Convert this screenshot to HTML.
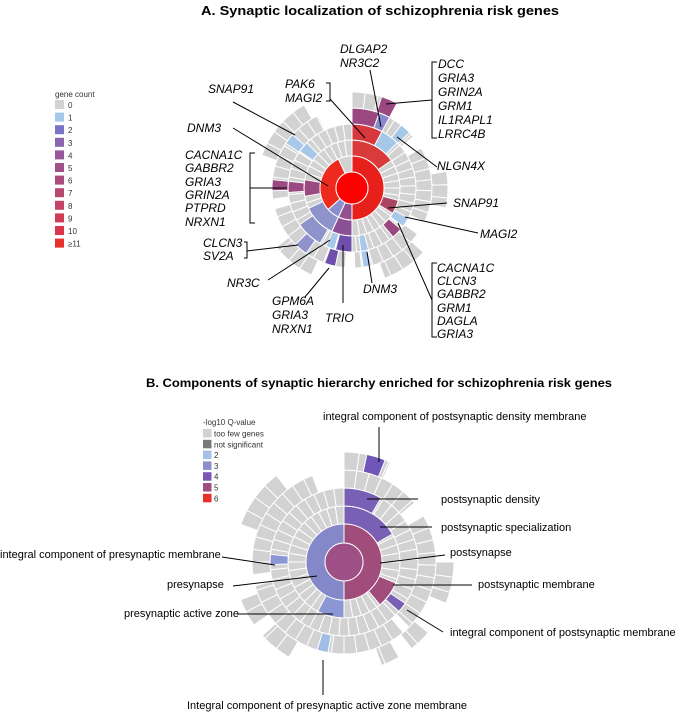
<!DOCTYPE html>
<html><head><meta charset="utf-8"><style>
body{margin:0;background:#fff;width:675px;height:712px;overflow:hidden}
svg{display:block}
text{font-family:"Liberation Sans",sans-serif}
.a{font-style:italic;font-size:12px}
.b{font-size:11px}
.lg{font-size:8px;fill:#333}
</style></head><body>
<svg id="s" width="675" height="712" viewBox="0 0 675 712">
<text x="201" y="15" font-weight="bold" font-size="13" textLength="358" lengthAdjust="spacingAndGlyphs">A. Synaptic localization of schizophrenia risk genes</text>
<text x="146" y="387" font-weight="bold" font-size="12" textLength="466" lengthAdjust="spacingAndGlyphs">B. Components of synaptic hierarchy enriched for schizophrenia risk genes</text>
<g id="g"></g>
<g stroke="#000" stroke-width="1" fill="none">
<!-- A leaders -->
<path d="M370 70 L381 127"/>
<path d="M437 62 H432 V138 H437 M432 100 L386 104"/>
<path d="M326 83 H330 V101 H326 M330 99 L365 138"/>
<path d="M233 102 L295 135"/>
<path d="M233 128 L328 186"/>
<path d="M255 153 H250 V223 H255 M250 188 L287 188"/>
<path d="M244 242 H247 V258 H244 M247 251 L298 245"/>
<path d="M268 280 L330 240"/>
<path d="M305 297 L329 268"/>
<path d="M343 303 V245"/>
<path d="M372 283 L367 252"/>
<path d="M437 167 L397 137"/>
<path d="M447 203 L388 208"/>
<path d="M478 233 L405 217"/>
<path d="M437 263 H432 V337 H437 M432 300 L398 223"/>
<!-- B leaders -->
<path d="M379 427 V462"/>
<path d="M367 499 H418"/>
<path d="M380 527 H432"/>
<path d="M380 563 L445 555"/>
<path d="M393 585 H472"/>
<path d="M407 610 L443 632"/>
<path d="M222 557 L275 565"/>
<path d="M233 586 L317 576"/>
<path d="M237 614 H333"/>
<path d="M323 660 V695"/>
</g>
<g class="a">
<text x="340" y="53">DLGAP2</text><text x="340" y="67">NR3C2</text>
<text x="438" y="68">DCC</text><text x="438" y="82">GRIA3</text><text x="438" y="96">GRIN2A</text><text x="438" y="110">GRM1</text><text x="438" y="124">IL1RAPL1</text><text x="438" y="138">LRRC4B</text>
<text x="285" y="88">PAK6</text><text x="285" y="102">MAGI2</text>
<text x="208" y="93">SNAP91</text>
<text x="187" y="132">DNM3</text>
<text x="185" y="159">CACNA1C</text><text x="185" y="172">GABBR2</text><text x="185" y="186">GRIA3</text><text x="185" y="199">GRIN2A</text><text x="185" y="212">PTPRD</text><text x="185" y="226">NRXN1</text>
<text x="203" y="247">CLCN3</text><text x="203" y="260">SV2A</text>
<text x="227" y="287">NR3C</text>
<text x="272" y="305">GPM6A</text><text x="272" y="319">GRIA3</text><text x="272" y="333">NRXN1</text>
<text x="325" y="322">TRIO</text>
<text x="363" y="293">DNM3</text>
<text x="437" y="170">NLGN4X</text>
<text x="453" y="207">SNAP91</text>
<text x="480" y="238">MAGI2</text>
<text x="437" y="272">CACNA1C</text><text x="437" y="285">CLCN3</text><text x="437" y="298">GABBR2</text><text x="437" y="312">GRM1</text><text x="437" y="325">DAGLA</text><text x="437" y="338">GRIA3</text>
</g>
<g class="b">
<text x="323" y="420">integral component of postsynaptic density membrane</text>
<text x="441" y="503">postsynaptic density</text>
<text x="441" y="531">postsynaptic specialization</text>
<text x="450" y="556">postsynapse</text>
<text x="478" y="588">postsynaptic membrane</text>
<text x="450" y="636">integral component of postsynaptic membrane</text>
<text x="0" y="558">integral component of presynaptic membrane</text>
<text x="167" y="588">presynapse</text>
<text x="124" y="617">presynaptic active zone</text>
<text x="187" y="709">Integral component of presynaptic active zone membrane</text>
</g>
<g id="lg"></g>
</svg>
<script>
var G='#d2d2d2',NS='http://www.w3.org/2000/svg',g=document.getElementById('g');
function P(cx,cy,r,a){a=(a-90)*Math.PI/180;return [cx+r*Math.cos(a),cy+r*Math.sin(a)];}
function arc(cx,cy,r0,r1,a0,a1,c){var e=document.createElementNS(NS,'path'),d;
 if(r0==0&&a1-a0>=360){e=document.createElementNS(NS,'circle');e.setAttribute('cx',cx);e.setAttribute('cy',cy);e.setAttribute('r',r1);}
 else{if(a1-a0>=360)a1=a0+359.99;var l=(a1-a0)>180?1:0,p1=P(cx,cy,r1,a0),p2=P(cx,cy,r1,a1),p3=P(cx,cy,r0,a1),p4=P(cx,cy,r0,a0);
 d='M'+p1+'A'+r1+','+r1+' 0 '+l+' 1 '+p2+'L'+p3+'A'+r0+','+r0+' 0 '+l+' 0 '+p4+'Z';e.setAttribute('d',d);}
 e.setAttribute('fill',c);e.setAttribute('stroke','#fff');e.setAttribute('stroke-width','1');g.appendChild(e);}
function level(cx,cy,r0,r1,grays,cols,step){grays.forEach(function(s){for(var a=s[0];a<s[1];a+=step)arc(cx,cy,r0,r1,a,Math.min(a+step,s[1]),G);});
 cols.forEach(function(c){arc(cx,cy,r0,r1,c[0],c[1],c[2]);});}
// Chart A
var ax=352,ay=188;
level(ax,ay,32,48,[[0,360]],[[0,55,'#d93a3a'],[105,122,'#a84562'],[180,205,'#8b5096'],[205,245,'#8e93cc'],[260,280,'#9a4a80']],9);
level(ax,ay,48,64,[[0,360]],[[0,28,'#d7383e'],[28,45,'#a6c8e8'],[118,127,'#a8c8ea'],[130,140,'#9b4882'],[165,172,'#a8c8ea'],[180,195,'#6e50ac'],[196,204,'#a8c8ea'],[210,235,'#8e93cc'],[266,276,'#9a4a80'],[305,315,'#a8c8ea']],8);
level(ax,ay,64,80,[[0,50],[60,115],[125,178],[185,255],[262,335]],[[0,20,'#9b4882'],[20,28,'#8a88cc'],[38,46,'#a8c8ea'],[166,172,'#a8c8ea'],[192,200,'#6e50ac'],[215,225,'#8e93cc'],[268,276,'#9a4a80'],[304,312,'#a8c8ea']],8);
level(ax,ay,80,96,[[0,28],[80,102],[132,160],[205,232],[290,330]],[[18,28,'#9b4882']],8);
arc(ax,ay,16,32,0,180,'#e8201c');arc(ax,ay,16,32,180,205,'#95508e');arc(ax,ay,16,32,205,228,'#8a8fd0');arc(ax,ay,16,32,228,335,'#ee2a1f');arc(ax,ay,16,32,335,360,G);
arc(ax,ay,0,16,0,360,'#ff0000');
// Chart B
var bx=344,by=562;
level(bx,by,38,56,[[0,360]],[[0,60,'#7a60b4'],[112,140,'#a04d7c'],[180,208,'#8a97d4']],9);
level(bx,by,56,74,[[0,360]],[[0,30,'#7a60b4'],[124,132,'#7a60b4'],[268,276,'#8a97d4']],8);
level(bx,by,74,92,[[0,50],[60,135],[140,255],[262,340]],[[190,197,'#a0bde6']],8);
level(bx,by,92,110,[[0,25],[90,112],[130,142],[150,160],[210,228],[235,250],[290,322]],[[12,22,'#7056b8']],8);
arc(bx,by,19,38,0,180,'#a04d7c');arc(bx,by,19,38,180,360,'#8488c8');
arc(bx,by,0,19,0,360,'#9e4f85');
// legends
var lg=document.getElementById('lg'),h='';
h+='<text class="lg" x="55" y="97">gene count</text>';
var ca=[G,'#a6c8e8','#7a72c4','#8a64ac','#98579a','#a0508a','#aa4c7e','#b64872','#c44466','#d03c56','#dc3448','#e8302e'],la=['0','1','2','3','4','5','6','7','8','9','10','≥11'];
for(var i=0;i<12;i++){var y=100+i*12.6;h+='<rect x="55" y="'+y+'" width="9" height="9" fill="'+ca[i]+'"/><text class="lg" x="68" y="'+(y+8)+'">'+la[i]+'</text>';}
h+='<text class="lg" x="203" y="425">-log10 Q-value</text>';
var cb=[G,'#7a7a7a','#a6c0e6','#8a8fcc','#7a56b5','#a04d7c','#e8302a'],lb=['too few genes','not significant','2','3','4','5','6'];
for(i=0;i<7;i++){y=429+i*10.8;h+='<rect x="203" y="'+y+'" width="8.5" height="8.5" fill="'+cb[i]+'"/><text class="lg" x="214" y="'+(y+7.5)+'">'+lb[i]+'</text>';}
lg.innerHTML=h;
</script>
</body></html>
